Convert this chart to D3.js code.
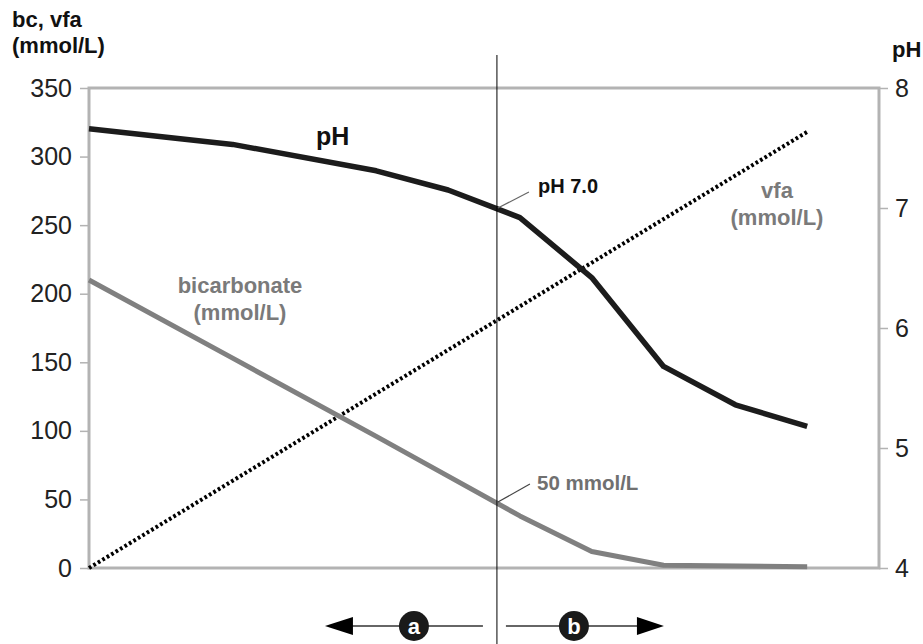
<!DOCTYPE html>
<html>
<head>
<meta charset="utf-8">
<script src="https://cdn.jsdelivr.net/npm/d3@7"></script>
<style>
  body { margin: 0; background: #fff; }
  svg { display: block; font-family: "Liberation Sans", Arial, sans-serif; }
</style>
</head>
<body>
<svg id="chart" width="923" height="644"></svg>
<script>
// ---- data ----
const phX = [0, 2, 4, 5, 6, 7, 8, 9, 10];
const phValues = [7.66, 7.53, 7.31, 7.15, 6.92, 6.42, 5.68, 5.36, 5.18];

const bcX = [0, 2, 4, 5, 6, 7, 8, 10];
const bcValues = [210, 153, 96, 67, 38, 12, 2, 1];

const vfaX = [0, 10];
const vfaValues = [0, 318];

const leftTicks = [0, 50, 100, 150, 200, 250, 300, 350];
const rightTicks = [4, 5, 6, 7, 8];
const boundaryX = 5.68; // where pH crosses 7.0 / bicarbonate ~50

// ---- layout ----
const margin = { top: 88, right: 44, bottom: 76, left: 89 };
const width = 923, height = 644;
const innerW = width - margin.left - margin.right;
const innerH = height - margin.top - margin.bottom;

const svg = d3.select('#chart');
const g = svg.append('g').attr('transform', `translate(${margin.left},${margin.top})`);

const x = d3.scaleLinear().domain([0, 11]).range([0, innerW]);
const yLeft = d3.scaleLinear().domain([0, 350]).range([innerH, 0]);
const yRight = d3.scaleLinear().domain([4, 8]).range([innerH, 0]);

const frameColor = '#b3b3b3';

// left axis
const leftAxis = g.append('g')
  .call(d3.axisLeft(yLeft).tickValues(leftTicks).tickSize(9).tickPadding(8));
leftAxis.select('.domain').remove();
leftAxis.selectAll('line').attr('stroke', frameColor).attr('stroke-width', 1.5);
leftAxis.selectAll('text').attr('font-size', 25).attr('fill', '#222')
  .attr('font-family', '"Liberation Sans", Arial, sans-serif');

// right axis
const rightAxis = g.append('g').attr('transform', `translate(${innerW},0)`)
  .call(d3.axisRight(yRight).tickValues(rightTicks).tickFormat(d3.format('d'))
    .tickSize(9).tickPadding(7));
rightAxis.select('.domain').remove();
rightAxis.selectAll('line').attr('stroke', frameColor).attr('stroke-width', 1.5);
rightAxis.selectAll('text').attr('font-size', 25).attr('fill', '#222')
  .attr('font-family', '"Liberation Sans", Arial, sans-serif');

// plot frame
g.append('rect')
  .attr('x', 0).attr('y', 0).attr('width', innerW).attr('height', innerH)
  .attr('fill', 'none').attr('stroke', frameColor).attr('stroke-width', 3);

// axis titles
svg.append('text').attr('x', 12).attr('y', 27)
  .attr('font-size', 22).attr('font-weight', 'bold').attr('fill', '#111')
  .text('bc, vfa');
svg.append('text').attr('x', 12).attr('y', 53)
  .attr('font-size', 22).attr('font-weight', 'bold').attr('fill', '#111')
  .text('(mmol/L)');
svg.append('text').attr('x', 892).attr('y', 57)
  .attr('font-size', 22).attr('font-weight', 'bold').attr('fill', '#111')
  .text('pH');

// series
const zip = (xs, ys) => xs.map((d, i) => [d, ys[i]]);

const lineLeft = d3.line().x(d => x(d[0])).y(d => yLeft(d[1]));
const lineRight = d3.line().x(d => x(d[0])).y(d => yRight(d[1]));

g.append('path').datum(zip(vfaX, vfaValues))
  .attr('d', lineLeft).attr('fill', 'none')
  .attr('stroke', '#000').attr('stroke-width', 4).attr('stroke-dasharray', '2.7 2.5');

g.append('path').datum(zip(bcX, bcValues))
  .attr('d', lineLeft).attr('fill', 'none')
  .attr('stroke', '#808080').attr('stroke-width', 5).attr('stroke-linejoin', 'round');

g.append('path').datum(zip(phX, phValues))
  .attr('d', lineRight).attr('fill', 'none')
  .attr('stroke', '#1c1c1c').attr('stroke-width', 5.5).attr('stroke-linejoin', 'round');

// vertical boundary line
const bx = margin.left + x(boundaryX);
svg.append('line')
  .attr('x1', bx).attr('x2', bx).attr('y1', 55).attr('y2', height)
  .attr('stroke', '#000').attr('stroke-width', 1);

// leader lines + labels
svg.append('line').attr('x1', bx + 1).attr('y1', 208).attr('x2', bx + 32).attr('y2', 192)
  .attr('stroke', '#666').attr('stroke-width', 1.2);
svg.append('text').attr('x', 538).attr('y', 193)
  .attr('font-size', 20).attr('font-weight', 'bold').attr('fill', '#111').text('pH 7.0');

svg.append('line').attr('x1', bx + 1).attr('y1', 502).attr('x2', bx + 33).attr('y2', 484)
  .attr('stroke', '#444').attr('stroke-width', 1.2);
svg.append('text').attr('x', 537).attr('y', 490)
  .attr('font-size', 20.5).attr('font-weight', 'bold').attr('fill', '#707070').text('50 mmol/L');

svg.append('text').attr('x', 316).attr('y', 145)
  .attr('font-size', 25).attr('font-weight', 'bold').attr('fill', '#111').text('pH');

const grayLabel = (cx, lines, y0) => {
  lines.forEach((t, i) => {
    svg.append('text').attr('x', cx).attr('y', y0 + i * 27)
      .attr('text-anchor', 'middle').attr('font-size', 22).attr('font-weight', 'bold')
      .attr('fill', '#7a7a7a').text(t);
  });
};
grayLabel(240, ['bicarbonate', '(mmol/L)'], 293);
grayLabel(777, ['vfa', '(mmol/L)'], 198);

// bottom arrows a / b
const ay = 626;
const arrows = svg.append('g');
arrows.append('line').attr('x1', bx - 145).attr('x2', bx - 14).attr('y1', ay).attr('y2', ay)
  .attr('stroke', '#333').attr('stroke-width', 1.5);
arrows.append('path')
  .attr('d', `M${bx - 172},${ay} L${bx - 144},${ay - 9} L${bx - 144},${ay + 9} Z`).attr('fill', '#000');
arrows.append('line').attr('x1', bx + 9).attr('x2', bx + 142).attr('y1', ay).attr('y2', ay)
  .attr('stroke', '#333').attr('stroke-width', 1.5);
arrows.append('path')
  .attr('d', `M${bx + 167},${ay} L${bx + 140},${ay - 9} L${bx + 140},${ay + 9} Z`).attr('fill', '#000');

[['a', bx - 83], ['b', bx + 77]].forEach(([t, cx]) => {
  arrows.append('circle').attr('cx', cx).attr('cy', ay).attr('r', 15).attr('fill', '#1a1a1a');
  arrows.append('text').attr('x', cx).attr('y', ay + 7.5).attr('text-anchor', 'middle')
    .attr('font-size', 22).attr('font-weight', 'bold').attr('fill', '#fff').text(t);
});
</script>
</body>
</html>
